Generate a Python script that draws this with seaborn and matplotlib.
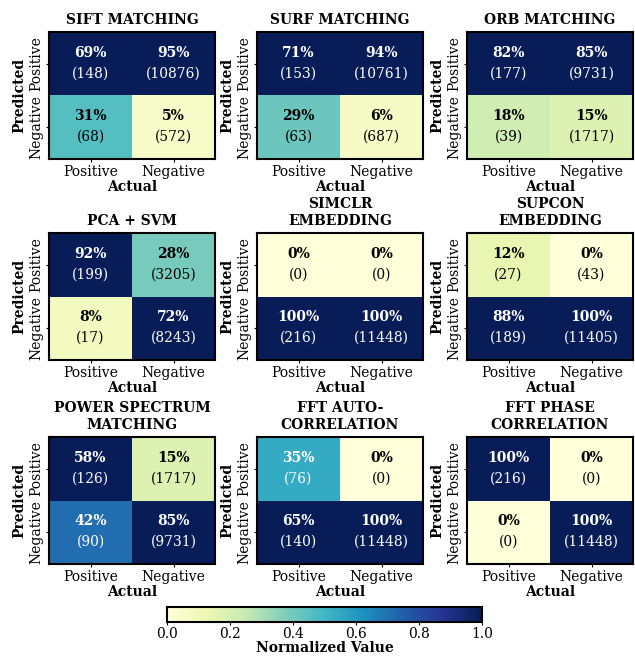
import numpy as np
import matplotlib
matplotlib.use("Agg")
import matplotlib.pyplot as plt
import seaborn as sns

plt.rcParams["font.family"] = ["DejaVu Serif"]
plt.rcParams["font.size"] = 10

# Confusion-matrix counts per method (positives: 216, negatives: 11448)
titles = [
    "SIFT MATCHING", "SURF MATCHING", "ORB MATCHING",
    "PCA + SVM", "SIMCLR\nEMBEDDING", "SUPCON\nEMBEDDING",
    "POWER SPECTRUM\nMATCHING", "FFT AUTO-\nCORRELATION", "FFT PHASE\nCORRELATION",
]
tp = [148, 153, 177, 199, 0, 27, 126, 76, 216]
fn = [68, 63, 39, 17, 216, 189, 90, 140, 0]
fp = [10876, 10761, 9731, 3205, 0, 43, 1717, 0, 0]
tn = [572, 687, 1717, 8243, 11448, 11405, 9731, 11448, 11448]

class_labels = ["Positive", "Negative"]

W, H = 635, 657
fig = plt.figure(figsize=(W / 100, H / 100), dpi=100)

col_left = [49, 257, 467]
row_top = [32, 233, 437]
ax_w, ax_h = 166, 127

mappable = None
for i, title in enumerate(titles):
    r, c = divmod(i, 3)
    ax = fig.add_axes([col_left[c] / W, 1 - (row_top[r] + ax_h) / H, ax_w / W, ax_h / H])

    counts = np.array([[tp[i], fp[i]], [fn[i], tn[i]]], dtype=float)
    frac = counts / counts.sum(axis=0, keepdims=True)
    shade = frac / frac.max(axis=0, keepdims=True)

    sns.heatmap(shade, ax=ax, cmap="YlGnBu", vmin=0, vmax=1, cbar=False,
                xticklabels=class_labels, yticklabels=class_labels)
    mappable = ax.collections[0]

    for rr in range(2):
        for cc in range(2):
            color = "white" if shade[rr, cc] > 0.5 else "black"
            ax.text(cc + 0.5, rr + 0.33, f"{frac[rr, cc] * 100:.0f}%",
                    ha="center", va="center", fontsize=10, fontweight="bold", color=color)
            ax.text(cc + 0.5, rr + 0.65, f"({int(counts[rr, cc])})",
                    ha="center", va="center", fontsize=10, color=color)

    for s in ax.spines.values():
        s.set_visible(True)
        s.set_linewidth(1.5)
        s.set_color("black")

    ax.set_title(title, fontsize=10, fontweight="bold", pad=6)
    ax.set_xlabel("Actual", fontsize=10, fontweight="bold", labelpad=1)
    ax.set_ylabel("Predicted", fontsize=10, fontweight="bold", labelpad=2)
    ax.tick_params(axis="both", labelsize=10, length=2, width=0.8, pad=2)
    plt.setp(ax.get_yticklabels(), rotation=90, va="center")
    plt.setp(ax.get_xticklabels(), rotation=0)

cax = fig.add_axes([167 / W, 1 - 622 / H, 315 / W, 15 / H])
cb = fig.colorbar(mappable, cax=cax, orientation="horizontal")
cb.set_ticks([0.0, 0.2, 0.4, 0.6, 0.8, 1.0])
cb.ax.tick_params(labelsize=10, length=2, pad=1.5)
cb.outline.set_linewidth(1.5)
cb.set_label("Normalized Value", fontsize=10, fontweight="bold", labelpad=0)

fig.savefig("out.png", dpi=100)
